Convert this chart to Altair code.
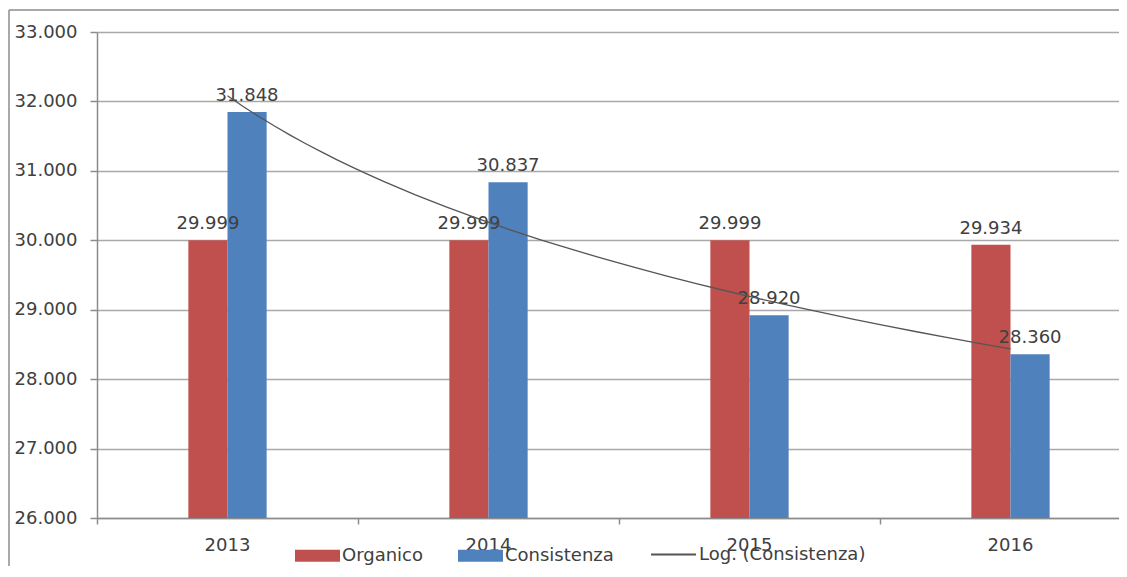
import altair as alt
import pandas as pd

anni = ["2013", "2014", "2015", "2016"]
organico = [29999, 29999, 29999, 29934]
consistenza = [31848, 30837, 28920, 28360]
serie = ["Organico", "Consistenza"]
colori = ["#C0504D", "#4F81BD"]
y_ticks = [26000, 27000, 28000, 29000, 30000, 31000, 32000, 33000]
trend_nome = "Log. (Consistenza)"

rows = []
for i, a in enumerate(anni):
    rows.append({"Anno": a, "Serie": serie[0], "Valore": organico[i]})
    rows.append({"Anno": a, "Serie": serie[1], "Valore": consistenza[i]})
df = pd.DataFrame(rows)

FONT = "DejaVu Sans"
TXT = "#404040"
AXC = "#8C8C8C"
fmt_axis = "replace(format(datum.value, ','), ',', '.')"

W, H = 1044, 486

x_scale = alt.Scale(paddingInner=0.7, paddingOuter=0.35)
x_axis = alt.Axis(title=None, labelAngle=0, ticks=False, labelPadding=18,
                  domainColor=AXC, domainWidth=1.5, orient="bottom",
                  labelFont=FONT, labelFontSize=18, labelColor=TXT)
x_band = alt.X("Anno:N", sort=anni, scale=x_scale, axis=x_axis)
x_off = alt.XOffset("Serie:N", sort=serie,
                    scale=alt.Scale(domain=serie, paddingInner=0, paddingOuter=0))
y_enc = alt.Y(
    "Valore:Q",
    scale=alt.Scale(domain=[26000, 33000], zero=False, nice=False),
    axis=alt.Axis(values=y_ticks, labelExpr=fmt_axis, title=None, tickSize=7,
                  tickColor=AXC, tickWidth=1.5, labelPadding=13,
                  domainColor=AXC, domainWidth=1.5,
                  grid=True, gridColor="#A9A9A9", gridWidth=1.5,
                  labelFont=FONT, labelFontSize=18, labelColor=TXT),
)

base = alt.Chart(df)

bars = base.mark_bar(clip=True).encode(
    x=x_band,
    xOffset=x_off,
    y=y_enc,
    color=alt.Color(
        "Serie:N",
        scale=alt.Scale(domain=serie, range=colori),
        legend=alt.Legend(
            title=None, orient="none", legendX=198, legendY=501,
            direction="horizontal",
            symbolType="M-1,-0.27L1,-0.27L1,0.27L-1,0.27Z",
            symbolSize=2025, symbolStrokeWidth=0, symbolOpacity=1,
            labelFont=FONT, labelFontSize=18, labelColor=TXT,
            labelOffset=2, columnPadding=34, padding=0, labelLimit=300,
        ),
    ),
)

labels = base.transform_calculate(
    etichetta="replace(format(datum.Valore, ','), ',', '.')"
).mark_text(
    baseline="bottom", align="center", dy=-7,
    font=FONT, fontSize=18, color=TXT,
).encode(
    x=x_band,
    xOffset=x_off,
    y=alt.Y("Valore:Q"),
    text="etichetta:N",
)

trend = base.transform_filter(
    alt.datum.Serie == "Consistenza"
).transform_calculate(
    idx="toNumber(datum.Anno) - 2012"
).transform_regression(
    on="idx", regression="Valore", method="log"
).transform_calculate(
    nome="'" + trend_nome + "'"
).mark_line(strokeWidth=1.3).encode(
    x=alt.X(
        "idx:Q",
        scale=alt.Scale(domain=[0.5, 4.5], nice=False, zero=False),
        axis=alt.Axis(values=[0.5, 1.5, 2.5, 3.5, 4.5], labels=False,
                      domain=False, grid=False, ticks=True, tickSize=6,
                      tickColor=AXC, tickWidth=1.5, title=None, orient="bottom"),
    ),
    y=alt.Y("Valore:Q"),
    stroke=alt.Stroke(
        "nome:N",
        scale=alt.Scale(domain=[trend_nome], range=["#555555"]),
        legend=alt.Legend(
            title=None, orient="none", legendX=553, legendY=499,
            symbolType="stroke", symbolSize=2025, symbolStrokeWidth=2,
            symbolStrokeColor="#A0A0A0",
            labelFont=FONT, labelFontSize=18, labelColor=TXT,
            labelOffset=2, padding=0, labelLimit=300,
        ),
    ),
)

frame_df = pd.DataFrame({"k": [0]})
left_edge = alt.Chart(frame_df).mark_rule(color="#8C8C8C", strokeWidth=1.5).encode(
    x=alt.value(-88), y=alt.value(-22), y2=alt.value(H + 120),
)
top_edge = alt.Chart(frame_df).mark_rule(color="#8C8C8C", strokeWidth=1.5).encode(
    x=alt.value(-88), x2=alt.value(W + 120), y=alt.value(-22),
)

chart = alt.layer(
    left_edge,
    top_edge,
    alt.layer(bars, labels),
    trend,
).resolve_scale(
    x="independent"
).properties(
    width=W, height=H,
    autosize=alt.AutoSizeParams(type="none"),
    padding={"left": 89, "top": 24, "right": -22, "bottom": 48},
).configure_view(
    fill="#E7E7E7", stroke=None
).configure(background="white")

chart.save("out.html", embed_options={"renderer": "svg", "actions": False})
